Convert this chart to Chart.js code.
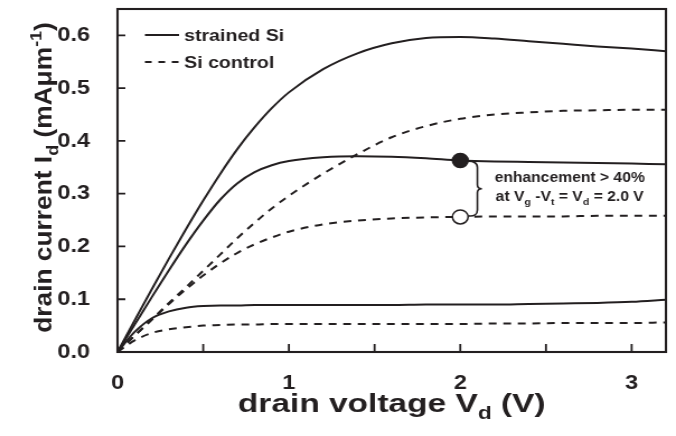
<!DOCTYPE html>
<html>
<head>
<meta charset="utf-8">
<script src="https://cdn.jsdelivr.net/npm/chart.js@4.4.1/dist/chart.umd.min.js"></script>
<style>
  html, body { margin: 0; padding: 0; background: #fff; overflow: hidden; }
  /* the figure is drawn a bit narrow and widened, like the printed original */
  #ivChart { display: block; transform: scaleX(1.1192); transform-origin: 0 0; }
</style>
</head>
<body>
<canvas id="ivChart" width="604" height="436"></canvas>
<script>
// drain voltage samples (V)
const vd = [0, 0.1, 0.2, 0.3, 0.4, 0.5, 0.6, 0.7, 0.8, 0.9, 1.0, 1.2, 1.4, 1.6, 1.8, 2.0, 2.2, 2.4, 2.6, 2.8, 3.0, 3.2];

// drain current (mA/um), strained Si devices
const strainedHigh = [0, 0.060, 0.119, 0.177, 0.233, 0.287, 0.338, 0.385, 0.426, 0.462, 0.492, 0.536, 0.566, 0.585, 0.595, 0.597, 0.594, 0.589, 0.584, 0.579, 0.575, 0.570];
const strainedMid = [0, 0.052, 0.104, 0.155, 0.204, 0.249, 0.289, 0.320, 0.341, 0.354, 0.362, 0.369, 0.371, 0.370, 0.367, 0.363, 0.361, 0.360, 0.359, 0.358, 0.357, 0.356];
const strainedLow = [0, 0.038, 0.064, 0.077, 0.084, 0.087, 0.088, 0.088, 0.089, 0.089, 0.089, 0.089, 0.089, 0.089, 0.090, 0.090, 0.090, 0.091, 0.092, 0.093, 0.095, 0.099];

// drain current (mA/um), Si control devices
const controlHigh = [0, 0.031, 0.062, 0.093, 0.123, 0.154, 0.185, 0.216, 0.245, 0.272, 0.296, 0.338, 0.375, 0.407, 0.428, 0.442, 0.450, 0.454, 0.457, 0.458, 0.459, 0.459];
const controlMid = [0, 0.031, 0.061, 0.091, 0.119, 0.145, 0.168, 0.188, 0.204, 0.217, 0.228, 0.242, 0.249, 0.253, 0.255, 0.256, 0.257, 0.257, 0.257, 0.258, 0.258, 0.258];
const controlLow = [0, 0.022, 0.036, 0.043, 0.047, 0.050, 0.051, 0.052, 0.052, 0.053, 0.053, 0.053, 0.053, 0.053, 0.053, 0.053, 0.054, 0.054, 0.055, 0.055, 0.055, 0.056];

// the two points compared at Vg-Vt = Vd = 2.0 V
const markVd = 2.0;
const markStrained = 0.363;
const markControl = 0.256;
const braceVd = 2.1;

// axes
const xTicks = [0, 1, 2, 3];
const xTickMarks = [0.5, 1, 1.5, 2, 2.5, 3];
const yTicks = [0, 0.1, 0.2, 0.3, 0.4, 0.5, 0.6];
const xMax = 3.2;
const yMax = 0.65;

const legendLabels = ['strained Si', 'Si control'];
const annotationLine1 = 'enhancement > 40%';

const FONT = '"Liberation Sans", Arial, Helvetica, sans-serif';
const INK = '#231f20';
const DASH = [7, 6];

function toPoints(ys) {
  return vd.map((v, i) => ({ x: v, y: ys[i] }));
}

function curve(ys, dashed) {
  return {
    data: toPoints(ys),
    borderColor: INK,
    borderWidth: 2,
    borderDash: dashed ? DASH : [],
    pointRadius: 0,
    cubicInterpolationMode: 'monotone',
    fill: false
  };
}

// text with sub/superscript pieces: [text, 'sub' | 'sup' | undefined]
function richWidth(ctx, parts, size) {
  let w = 0;
  for (const [t, kind] of parts) {
    ctx.font = 'bold ' + (kind ? size * 0.68 : size) + 'px ' + FONT;
    w += ctx.measureText(t).width;
  }
  return w;
}

// centred at (x, y), kx widens the run of text
function drawRich(ctx, parts, x, y, size, kx = 1) {
  ctx.save();
  ctx.translate(x, y);
  ctx.scale(kx, 1);
  let cx = -richWidth(ctx, parts, size) / 2;
  ctx.textAlign = 'left';
  ctx.textBaseline = 'alphabetic';
  for (const [t, kind] of parts) {
    const s = kind ? size * 0.68 : size;
    ctx.font = 'bold ' + s + 'px ' + FONT;
    let dy = 0;
    if (kind === 'sub') dy = size * 0.28;
    if (kind === 'sup') dy = -size * 0.42;
    ctx.fillText(t, cx, dy);
    cx += ctx.measureText(t).width;
  }
  ctx.restore();
}

// no extra room for half-labels at the axis ends
function noEdgePadding(scale) {
  scale.paddingTop = 0;
  scale.paddingBottom = 0;
  scale.paddingLeft = 0;
  scale.paddingRight = 0;
}

const framePlugin = {
  id: 'frame',
  afterDraw(chart) {
    const { ctx, chartArea: a, scales: { x, y } } = chart;
    ctx.save();
    ctx.strokeStyle = INK;
    ctx.fillStyle = INK;

    // box round the plot
    ctx.lineWidth = 2.1;
    ctx.setLineDash([]);
    ctx.strokeRect(a.left, a.top, a.right - a.left, a.bottom - a.top);

    // inward tick marks
    ctx.lineWidth = 1.8;
    ctx.beginPath();
    for (const v of xTickMarks) {
      const px = x.getPixelForValue(v);
      ctx.moveTo(px, a.bottom);
      ctx.lineTo(px, a.bottom - 8);
    }
    for (const v of yTicks.slice(1)) {
      const py = y.getPixelForValue(v);
      ctx.moveTo(a.left, py);
      ctx.lineTo(a.left + 7, py);
    }
    ctx.stroke();

    // legend
    ctx.lineWidth = 2;
    ctx.beginPath();
    ctx.moveTo(129.5, 35);
    ctx.lineTo(160, 35);
    ctx.stroke();
    ctx.setLineDash([6, 6]);
    ctx.beginPath();
    ctx.moveTo(129.5, 62);
    ctx.lineTo(160, 62);
    ctx.stroke();
    ctx.setLineDash([]);
    ctx.save();
    ctx.translate(164.5, 0);
    ctx.scale(1.06, 1);
    ctx.font = 'bold 16.5px ' + FONT;
    ctx.textAlign = 'left';
    ctx.textBaseline = 'alphabetic';
    ctx.fillText(legendLabels[0], 0, 41);
    ctx.fillText(legendLabels[1], 0, 68);
    ctx.restore();

    // brace between the two marked points
    const bx = x.getPixelForValue(braceVd);
    const x0 = x.getPixelForValue(markVd);
    const yTop = y.getPixelForValue(markStrained);
    const yBot = y.getPixelForValue(markControl);
    const yMid = (yTop + yBot) / 2;
    ctx.lineWidth = 1.6;
    ctx.beginPath();
    ctx.moveTo(x0 + 5, yTop + 1);
    ctx.quadraticCurveTo(bx, yTop, bx, yTop + 7);
    ctx.lineTo(bx, yMid - 4);
    ctx.quadraticCurveTo(bx, yMid, bx + 4, yMid);
    ctx.quadraticCurveTo(bx, yMid, bx, yMid + 4);
    ctx.lineTo(bx, yBot - 7);
    ctx.quadraticCurveTo(bx, yBot, x0 + 7, yBot - 1);
    ctx.stroke();

    // annotation text
    drawRich(ctx, [[annotationLine1]], 509, 182, 14);
    drawRich(ctx, [['at V'], ['g', 'sub'], [' -V'], ['t', 'sub'], [' = V'], ['d', 'sub'], [' = 2.0 V']], 509, 201, 14);

    // axis titles
    drawRich(ctx, [['drain voltage V'], ['d', 'sub'], [' (V)']], (a.left + a.right) / 2, 412, 26, 1.15);
    ctx.save();
    ctx.translate(46, (a.top + a.bottom) / 2 - 3);
    ctx.rotate(-Math.PI / 2);
    drawRich(ctx, [['drain current I'], ['d', 'sub'], [' (mA\u03bcm'], ['-1', 'sup'], [')']], 0, 0, 22.5, 1.17);
    ctx.restore();

    ctx.restore();
  }
};

// marked points sit above the curves (lower order is drawn on top)
const markers = [
  {
    data: [{ x: markVd, y: markStrained }],
    order: -1,
    showLine: false,
    pointRadius: 7,
    pointBackgroundColor: INK,
    pointBorderColor: INK,
    pointBorderWidth: 1.5
  },
  {
    data: [{ x: markVd, y: markControl }],
    order: -1,
    showLine: false,
    pointRadius: 7,
    pointBackgroundColor: '#ffffff',
    pointBorderColor: INK,
    pointBorderWidth: 1.5
  }
];

new Chart(document.getElementById('ivChart'), {
  type: 'line',
  data: {
    datasets: [
      curve(strainedHigh, false),
      curve(strainedMid, false),
      curve(strainedLow, false),
      curve(controlHigh, true),
      curve(controlMid, true),
      curve(controlLow, true),
      ...markers
    ]
  },
  options: {
    responsive: false,
    animation: false,
    devicePixelRatio: 1,
    layout: { padding: { top: 9, right: 9, left: 0, bottom: 0 } },
    plugins: { legend: { display: false }, tooltip: { enabled: false } },
    scales: {
      x: {
        type: 'linear',
        min: 0,
        max: xMax,
        grid: { display: false },
        border: { display: false },
        afterBuildTicks: (scale) => { scale.ticks = xTicks.map(v => ({ value: v })); },
        afterFit: (scale) => { scale.height = 84; noEdgePadding(scale); },
        ticks: {
          color: INK,
          font: { family: FONT, size: 21, weight: 'bold' },
          padding: 11,
          maxRotation: 0,
          callback: (v) => String(v)
        }
      },
      y: {
        type: 'linear',
        min: 0,
        max: yMax,
        grid: { display: false },
        border: { display: false },
        afterBuildTicks: (scale) => { scale.ticks = yTicks.map(v => ({ value: v })); },
        afterFit: (scale) => { scale.width = 105; noEdgePadding(scale); },
        ticks: {
          color: INK,
          font: { family: FONT, size: 21, weight: 'bold' },
          padding: 16.5,
          callback: (v) => v.toFixed(1)
        }
      }
    }
  },
  plugins: [framePlugin]
});
</script>
</body>
</html>
